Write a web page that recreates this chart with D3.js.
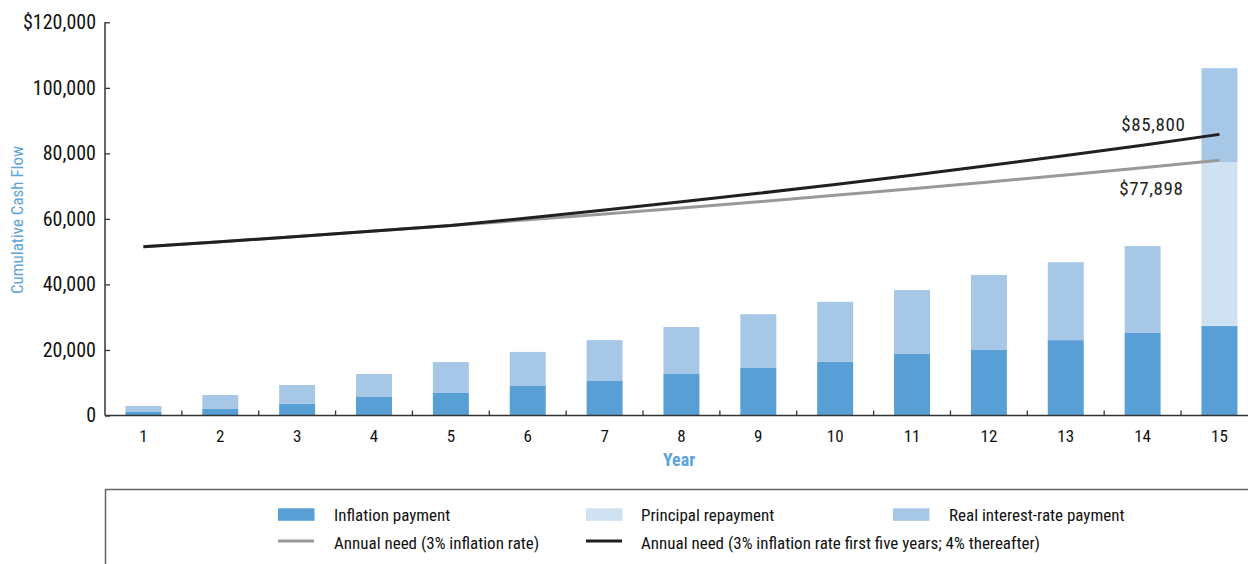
<!DOCTYPE html>
<html>
<head>
<meta charset="utf-8">
<script src="https://cdn.jsdelivr.net/npm/d3@7"></script>
<style>
  html, body { margin: 0; padding: 0; background: #fff; }
  svg { display: block; }
  text { font-family: "Liberation Sans Narrow", "Arial Narrow", "Roboto Condensed", sans-serif; }
</style>
</head>
<body>
<svg id="chart" width="1248" height="564"></svg>
<script>
// ---- data ----
const years = [1, 2, 3, 4, 5, 6, 7, 8, 9, 10, 11, 12, 13, 14, 15];
const inflationPayment = [1070, 1980, 3600, 5650, 6870, 9000, 10530, 12660, 14500, 16400, 18800, 20000, 23000, 25200, 27300];
const principalRepayment = [0, 0, 0, 0, 0, 0, 0, 0, 0, 0, 0, 0, 0, 0, 50000];
const realInterestPayment = [1830, 4270, 5700, 7010, 9430, 10400, 12470, 14340, 16400, 18300, 19500, 22900, 23800, 26500, 28700];
const need3pct = [51500, 53045, 54636, 56275, 57964, 59703, 61494, 63339, 65239, 67196, 69212, 71288, 73427, 75629, 77898];
const need3then4 = [51500, 53045, 54636, 56275, 57964, 60283, 62694, 65202, 67810, 70523, 73344, 76277, 79328, 82502, 85800];
const yTicks = [0, 20000, 40000, 60000, 80000, 100000, 120000];
const yTickLabels = ["0", "20,000", "40,000", "60,000", "80,000", "100,000", "$120,000"];
const endLabels = ["$85,800", "$77,898"];
const seriesNames = ["Inflation payment", "Principal repayment", "Real interest-rate payment"];
const lineNames = ["Annual need (3% inflation rate)", "Annual need (3% inflation rate first five years; 4% thereafter)"];

// ---- styles ----
const colors = { inflation: "#579fd4", principal: "#d0e1f1", real: "#a7c7e6" };
const grayLine = "#999999", blackLine = "#231f20", blueText = "#5ba3d8";

const svg = d3.select("#chart");
const left = 105, baseY = 415.5, topY = 22.3;
const step = 76.86;

const x = d3.scaleBand().domain(years).range([left, left + step * years.length])
  .paddingInner(0.532).paddingOuter(0.266);
const y = d3.scaleLinear().domain([0, 120000]).range([baseY, topY]);

// stacked data
const table = years.map((yr, i) => ({
  year: yr,
  inflation: inflationPayment[i],
  principal: principalRepayment[i],
  real: realInterestPayment[i]
}));
const stack = d3.stack().keys(["inflation", "principal", "real"])(table);

svg.append("g").selectAll("g").data(stack).join("g")
  .attr("fill", d => colors[d.key])
  .selectAll("rect").data(d => d).join("rect")
  .attr("x", d => x(d.data.year))
  .attr("width", x.bandwidth())
  .attr("y", d => y(d[1]))
  .attr("height", d => Math.max(0, y(d[0]) - y(d[1])));

// lines
const cx = yr => x(yr) + x.bandwidth() / 2;
const line = d3.line().x((d, i) => cx(years[i])).y(d => y(d));
svg.append("path").datum(need3pct).attr("d", line)
  .attr("fill", "none").attr("stroke", grayLine).attr("stroke-width", 3);
svg.append("path").datum(need3then4).attr("d", line)
  .attr("fill", "none").attr("stroke", blackLine).attr("stroke-width", 3);

// end labels
const lastX = cx(years[years.length - 1]);
svg.append("text").attr("x", lastX - 34).attr("y", y(need3then4[14]) - 3.5)
  .attr("text-anchor", "end").attr("font-size", 19).attr("fill", "#231f20")
  .attr("letter-spacing", "0.6px").text(endLabels[0]);
svg.append("text").attr("x", lastX - 36).attr("y", y(need3pct[14]) + 35)
  .attr("text-anchor", "end").attr("font-size", 19).attr("fill", "#231f20")
  .attr("letter-spacing", "0.6px").text(endLabels[1]);

// y axis
const yAxis = d3.axisLeft(y).tickValues(yTicks)
  .tickFormat((d, i) => yTickLabels[i]).tickSize(-5).tickPadding(9);
const gy = svg.append("g").attr("transform", `translate(${left},0)`).call(yAxis);
gy.select(".domain").attr("stroke", "#333").attr("stroke-width", 1.5).attr("d", `M0,${topY}V${baseY}`);
gy.selectAll(".tick line").attr("stroke", "#333").attr("stroke-width", 1.3);
gy.selectAll(".tick text").attr("font-size", 20).attr("fill", "#111")
  .attr("font-family", "'Liberation Sans Narrow', 'Arial Narrow', sans-serif");

// x axis
const gx = svg.append("g").attr("transform", `translate(0,${baseY})`)
  .call(d3.axisBottom(x).tickSize(0).tickPadding(14));
gx.select(".domain").attr("stroke", "#333").attr("stroke-width", 1.5).attr("d", `M${left},0H1248`);
gx.selectAll(".tick text").attr("font-size", 17).attr("fill", "#111")
  .attr("font-family", "'Liberation Sans Narrow', 'Arial Narrow', sans-serif");
// boundary ticks
svg.append("g").selectAll("line").data(years.slice(1))
  .join("line")
  .attr("x1", d => x(d) - x.step() * x.paddingInner() / 2)
  .attr("x2", d => x(d) - x.step() * x.paddingInner() / 2)
  .attr("y1", baseY).attr("y2", baseY - 5)
  .attr("stroke", "#333").attr("stroke-width", 1.3);

// axis titles
svg.append("text").attr("x", 679).attr("y", 466).attr("text-anchor", "middle")
  .attr("font-size", 18).attr("font-weight", "bold").attr("fill", blueText).text("Year");
svg.append("text").attr("transform", "translate(23,220) rotate(-90)")
  .attr("text-anchor", "middle").attr("font-size", 17).attr("fill", blueText)
  .text("Cumulative Cash Flow");

// legend box
svg.append("path").attr("d", "M105.5,564V489.5H1248").attr("fill", "none")
  .attr("stroke", "#666").attr("stroke-width", 1.5);

const legendRects = [
  { x: 278, name: seriesNames[0], color: colors.inflation, tx: 334 },
  { x: 586, name: seriesNames[1], color: colors.principal, tx: 641 },
  { x: 893, name: seriesNames[2], color: colors.real, tx: 949 }
];
const lg = svg.append("g");
lg.selectAll("rect").data(legendRects).join("rect")
  .attr("x", d => d.x).attr("y", 508.3).attr("width", 36.5).attr("height", 12.5)
  .attr("fill", d => d.color);
lg.selectAll("text.r").data(legendRects).join("text").attr("class", "r")
  .attr("x", d => d.tx).attr("y", 521).attr("font-size", 17).attr("fill", "#111")
  .text(d => d.name);

const legendLines = [
  { x: 278, name: lineNames[0], color: grayLine, tx: 334 },
  { x: 586, name: lineNames[1], color: blackLine, tx: 641 }
];
lg.selectAll("line").data(legendLines).join("line")
  .attr("x1", d => d.x).attr("x2", d => d.x + 36)
  .attr("y1", 541).attr("y2", 541)
  .attr("stroke", d => d.color).attr("stroke-width", 3);
lg.selectAll("text.l").data(legendLines).join("text").attr("class", "l")
  .attr("x", d => d.tx).attr("y", 548.5).attr("font-size", 17).attr("fill", "#111")
  .text(d => d.name);
</script>
</body>
</html>
